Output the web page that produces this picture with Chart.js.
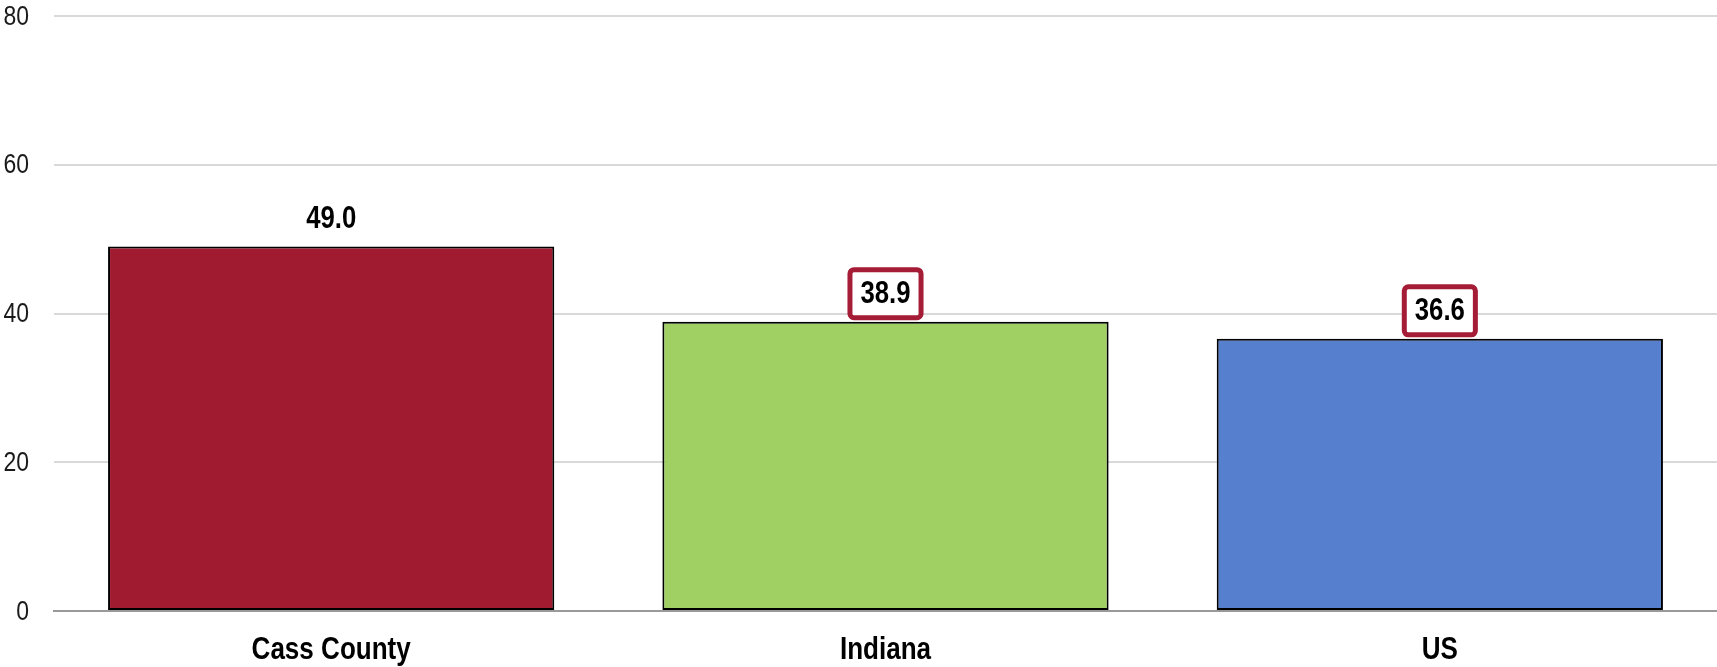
<!DOCTYPE html>
<html>
<head>
<meta charset="utf-8">
<script src="https://cdn.jsdelivr.net/npm/chart.js@4"></script>
<style>
html,body{margin:0;padding:0;background:#fff;}
#wrap{width:1717px;height:667px;position:relative;}
</style>
</head>
<body>
<div id="wrap"><canvas id="c" width="1717" height="667"></canvas></div>
<script>
const categories = ["Cass County", "Indiana", "US"];
const values = [49.0, 38.9, 36.6];
const barColors = ["#A01A30", "#A0D064", "#5680CE"];
const boxedLabels = [false, true, true];
const yTicks = [0, 20, 40, 60, 80];

const FONT = "'Liberation Sans', Arial, sans-serif";

// draw narrow (Arial Narrow-like) text by horizontally condensing Liberation Sans
function narrowText(ctx, txt, x, y, align, font, scaleX, color) {
  ctx.save();
  ctx.font = font;
  ctx.fillStyle = color;
  ctx.textBaseline = 'middle';
  ctx.textAlign = align;
  ctx.translate(x, y);
  ctx.scale(scaleX, 1);
  ctx.fillText(txt, 0, 0);
  ctx.restore();
}

const textLayer = {
  id: 'textLayer',
  afterDraw(chart) {
    const ctx = chart.ctx;
    const ys = chart.scales.y;
    const xs = chart.scales.x;
    // y tick labels
    ys.ticks.forEach(t => {
      narrowText(ctx, String(t.value), ys.right - 25, ys.getPixelForValue(t.value) + 1,
        'right', '28px ' + FONT, 0.82, '#1a1a1a');
    });
    // x category labels
    categories.forEach((c, i) => {
      narrowText(ctx, c, xs.getPixelForTick(i), xs.top + 39,
        'center', 'bold 31px ' + FONT, 0.84, '#000000');
    });
    // value labels
    const meta = chart.getDatasetMeta(0);
    meta.data.forEach((el, i) => {
      const txt = values[i].toFixed(1);
      const cx = el.x;
      const cy = el.y - 28;
      if (boxedLabels[i]) {
        ctx.save();
        ctx.font = 'bold 31px ' + FONT;
        const w = ctx.measureText(txt).width * 0.83 + 21;
        const h = 48;
        ctx.beginPath();
        ctx.roundRect(cx - w / 2, cy - h / 2, w, h, 4);
        ctx.fillStyle = '#ffffff';
        ctx.fill();
        ctx.lineWidth = 5;
        ctx.strokeStyle = '#A51C36';
        ctx.stroke();
        ctx.restore();
      }
      narrowText(ctx, txt, cx, cy + 1, 'center', 'bold 31px ' + FONT, 0.83, '#000000');
    });
  }
};

new Chart(document.getElementById('c'), {
  type: 'bar',
  data: {
    labels: categories,
    datasets: [{
      data: values,
      backgroundColor: barColors,
      borderColor: '#000000',
      borderWidth: 2,
      borderSkipped: false,
      categoryPercentage: 1.0,
      barPercentage: 0.805
    }]
  },
  options: {
    responsive: false,
    animation: false,
    layout: { padding: { top: 16, right: 0, left: 0, bottom: 0 } },
    plugins: { legend: { display: false }, tooltip: { enabled: false } },
    scales: {
      x: {
        afterFit(scale) { scale.height = 56; },
        grid: { display: false, drawTicks: false },
        border: { display: true, color: '#999999', width: 2 },
        ticks: { display: false }
      },
      y: {
        min: 0,
        max: 80,
        afterBuildTicks(scale) { scale.ticks = yTicks.map(v => ({ value: v })); },
        afterFit(scale) { scale.width = 54; },
        grid: {
          color: '#d9d9d9',
          lineWidth: 2,
          drawTicks: false
        },
        border: { display: false },
        ticks: { display: false }
      }
    }
  },
  plugins: [textLayer]
});
</script>
</body>
</html>
